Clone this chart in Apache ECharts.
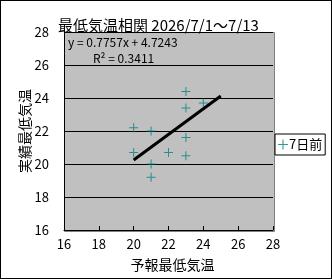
<!DOCTYPE html>
<html>
<head>
<meta charset="utf-8">
<script src="https://cdn.jsdelivr.net/npm/echarts@6/dist/echarts.min.js"></script>
<style>
  html, body { margin: 0; padding: 0; background: #fff; }
  #chart { width: 332px; height: 279px; box-sizing: border-box; border: 1px solid #000; }
</style>
</head>
<body>
<div id="chart"></div>
<script>
// 予報最低気温 (x) と実績最低気温 (y)
var forecastTemp = [23, 24, 23, 20, 21, 23, 20, 22, 23, 21, 21];
var actualTemp   = [24.4, 23.7, 23.4, 22.2, 22.0, 21.6, 20.7, 20.7, 20.5, 20.0, 19.2];
// 近似直線の両端
var trendX = [20, 25];
var trendY = [20.24, 24.12];
var axisTicks = [16, 18, 20, 22, 24, 26, 28];

var font = '"Noto Sans CJK JP", sans-serif';
var plus = 'path://M4,0H5V4H9V5H5V9H4V5H0V4H4Z';

var points = forecastTemp.map(function (x, i) { return [x, actualTemp[i]]; });
var trend = trendX.map(function (x, i) { return [x, trendY[i]]; });

var myChart = echarts.init(document.getElementById('chart'));
var option = {
    animation: false,
    title: {
        text: '最低気温相関 2026/7/1～7/13',
        left: 52,
        top: 12,
        textStyle: { fontFamily: font, fontSize: 15, fontWeight: 'normal', color: '#000' }
    },
    grid: { left: 63, right: 58, top: 31, bottom: 48 },
    legend: {
        data: [{ name: '+7日前', icon: plus }],
        formatter: function () { return '7日前'; },
        left: 274, top: 133,
        itemWidth: 10, itemHeight: 10, itemGap: 0,
        padding: [4, 3, 4, 3],
        borderColor: '#000', borderWidth: 1, borderRadius: 0,
        backgroundColor: '#fff',
        textStyle: { fontFamily: font, fontSize: 13, color: '#000', padding: [0, 0, 0, -4] }
    },
    xAxis: {
        type: 'value',
        min: 16, max: 28, interval: 2,
        name: '予報最低気温',
        nameLocation: 'middle',
        nameGap: 28,
        nameTextStyle: { fontFamily: font, fontSize: 14, color: '#000', padding: [0, 0, 0, 8] },
        axisLine: { lineStyle: { color: '#000', width: 1 } },
        axisTick: { show: true, inside: true, length: 4, lineStyle: { color: '#000' } },
        axisLabel: { fontFamily: font, fontSize: 13, color: '#000', margin: 8,
            formatter: function (v) { return axisTicks.indexOf(v) >= 0 ? String(v) : ''; } },
        splitLine: { show: false }
    },
    yAxis: {
        type: 'value',
        min: 16, max: 28, interval: 2,
        name: '実績最低気温',
        nameLocation: 'middle',
        nameGap: 32,
        nameMoveOverlap: false,
        nameTextStyle: { fontFamily: font, fontSize: 14, color: '#000' },
        axisLine: { show: true, lineStyle: { color: '#000', width: 1 } },
        axisTick: { show: false },
        axisLabel: { fontFamily: font, fontSize: 13, color: '#000', margin: 15 },
        splitLine: { show: true, lineStyle: { color: '#000', width: 1 } }
    },
    graphic: [
        {
            type: 'rect', z: -1, silent: true,
            shape: { x: 63.5, y: 31.5, width: 210, height: 199 },
            style: { fill: '#c0c0c0', stroke: '#808080', lineWidth: 1 }
        },
        {
            type: 'text', left: 67, top: 35, z: 10,
            style: { text: 'y = 0.7757x + 4.7243', font: '12px ' + font, fill: '#000' }
        },
        {
            type: 'text', left: 92, top: 51, z: 10,
            style: { text: 'R² = 0.3411', font: '12px ' + font, fill: '#000' }
        }
    ],
    series: [
        {
            name: '+7日前',
            type: 'scatter',
            data: points,
            symbol: plus,
            symbolSize: 9,
            itemStyle: { color: '#008080' },
            z: 3
        },
        {
            name: 'trend',
            type: 'line',
            data: trend,
            symbol: 'none',
            lineStyle: { color: '#000', width: 3 },
            z: 4
        }
    ]
};
myChart.setOption(option);
</script>
</body>
</html>
